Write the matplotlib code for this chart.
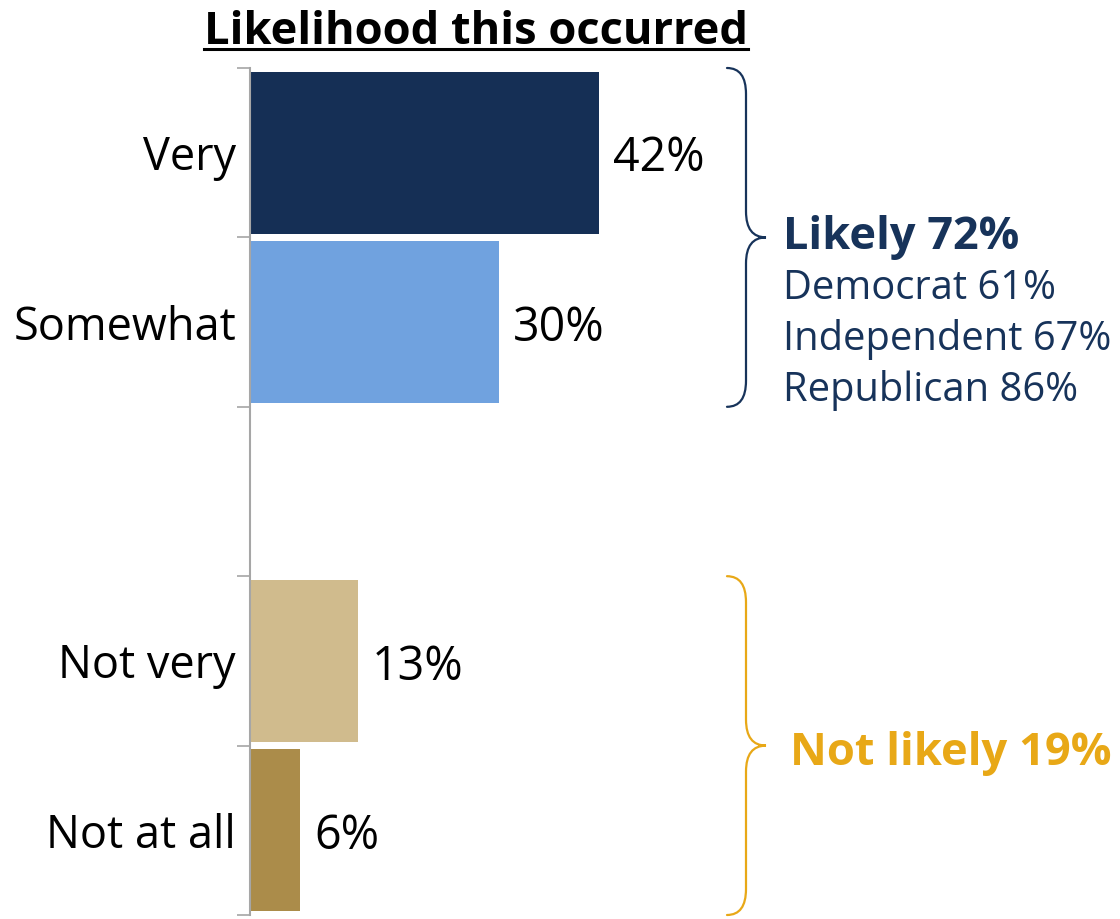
import numpy as np
import matplotlib
matplotlib.use("Agg")
import matplotlib.pyplot as plt
from matplotlib.lines import Line2D
from matplotlib.path import Path
from matplotlib.patches import PathPatch
from matplotlib.transforms import ScaledTranslation

plt.rcParams["font.family"] = ["Open Sans", "DejaVu Sans"]

CATEGORIES = ["Very", "Somewhat", "", "Not very", "Not at all"]
VALUES = [42, 30, None, 13, 6]
BAR_COLORS = ["#152F55", "#70A2DF", None, "#D0BB8D", "#AB8C4A"]

TITLE = "Likelihood this occurred"
LIKELY_HEAD = "Likely 72%"
LIKELY_PARTY = ["Democrat 61%", "Independent 67%", "Republican 86%"]
NOT_LIKELY_HEAD = "Not likely 19%"

NAVY = "#17335A"
GOLD = "#E8A817"
AXIS_GRAY = "#A6A6A6"

W, H, DPI = 1120, 919, 100


def draw_brace(fig, ax, x, y_top, y_bot, color, arm=19, tip=20, r=26):
    # brace drawn in display pixels so the curves are not distorted by axis scaling
    (px, py_top) = ax.transData.transform((x, y_top))
    (_, py_bot) = ax.transData.transform((x, y_bot))
    ymid = (py_top + py_bot) / 2
    xm = px + arm
    xt = xm + tip
    verts = [
        (px, py_top), (xm, py_top), (xm, py_top - r),
        (xm, ymid + r),
        (xm, ymid), (xt, ymid),
        (xm, ymid), (xm, ymid - r),
        (xm, py_bot + r),
        (xm, py_bot), (px, py_bot),
    ]
    codes = [Path.MOVETO, Path.CURVE3, Path.CURVE3,
             Path.LINETO,
             Path.CURVE3, Path.CURVE3,
             Path.CURVE3, Path.CURVE3,
             Path.LINETO,
             Path.CURVE3, Path.CURVE3]
    patch = PathPatch(Path(verts, codes), facecolor="none", edgecolor=color,
                      linewidth=1.6, transform=None, capstyle="round")
    fig.patches.append(patch)


def main() -> None:
    fig = plt.figure(figsize=(W / DPI, H / DPI), dpi=DPI)
    ax = fig.add_axes([250 / W, 4 / H, 1 - 250 / W, (915 - 68) / H])

    pos = np.arange(len(CATEGORIES))
    for i, (v, c) in enumerate(zip(VALUES, BAR_COLORS)):
        if v is None:
            continue
        ax.barh(pos[i], v, height=0.955, color=c, zorder=2)
        ax.text(v + 1.7, pos[i] + 0.035, f"{v}%", va="center", ha="left", fontsize=33.5, color="black")

    ax.set_xlim(0, (W - 250) / 8.3)
    ax.set_ylim(len(CATEGORIES) - 0.5, -0.5)

    ax.set_yticks(pos)
    ax.set_yticklabels(CATEGORIES, fontsize=32.5)
    shift = ScaledTranslation(0, -3 / DPI, fig.dpi_scale_trans)
    for lab in ax.get_yticklabels():
        lab.set_transform(lab.get_transform() + shift)
    ax.set_yticks(np.arange(len(CATEGORIES) + 1) - 0.5, minor=True)
    ax.tick_params(axis="y", which="major", length=0, pad=10)
    ax.tick_params(axis="y", which="minor", length=9.5, width=1.2, color=AXIS_GRAY, direction="out")
    ax.set_xticks([])
    for s in ["top", "right", "bottom"]:
        ax.spines[s].set_visible(False)
    ax.spines["left"].set_color(AXIS_GRAY)
    ax.spines["left"].set_linewidth(1.5)
    ax.spines["left"].set_zorder(3)

    # right-hand group summaries
    brace_x = (727 - 250) / 8.3
    text_x = (783 - 250) / 8.3
    draw_brace(fig, ax, brace_x, -0.5, 1.5, NAVY)
    draw_brace(fig, ax, brace_x, 2.5, 4.5, GOLD)

    ax.text(text_x, 0.5, LIKELY_HEAD, fontsize=32.5, fontweight="bold", color=NAVY,
            va="center", ha="left", clip_on=False)
    for k, line in enumerate(LIKELY_PARTY):
        ax.text(text_x, 0.805 + 0.3 * k, line, fontsize=28.7, color=NAVY,
                va="center", ha="left", clip_on=False)
    ax.text(text_x + 0.8, 3.545, NOT_LIKELY_HEAD, fontsize=32.6, fontweight="bold", color=GOLD,
            va="center", ha="left", clip_on=False)

    title = fig.text(476 / W, 1 - 32 / H, TITLE, fontsize=32.6, fontweight="bold",
                     ha="center", va="center", color="black")
    fig.canvas.draw()
    bb = title.get_window_extent()
    fig.add_artist(Line2D([bb.x0 / W, bb.x1 / W], [1 - 49 / H, 1 - 49 / H],
                          transform=fig.transFigure, color="black", linewidth=2.2))

    fig.savefig("out.png", dpi=DPI)


if __name__ == "__main__":
    main()
